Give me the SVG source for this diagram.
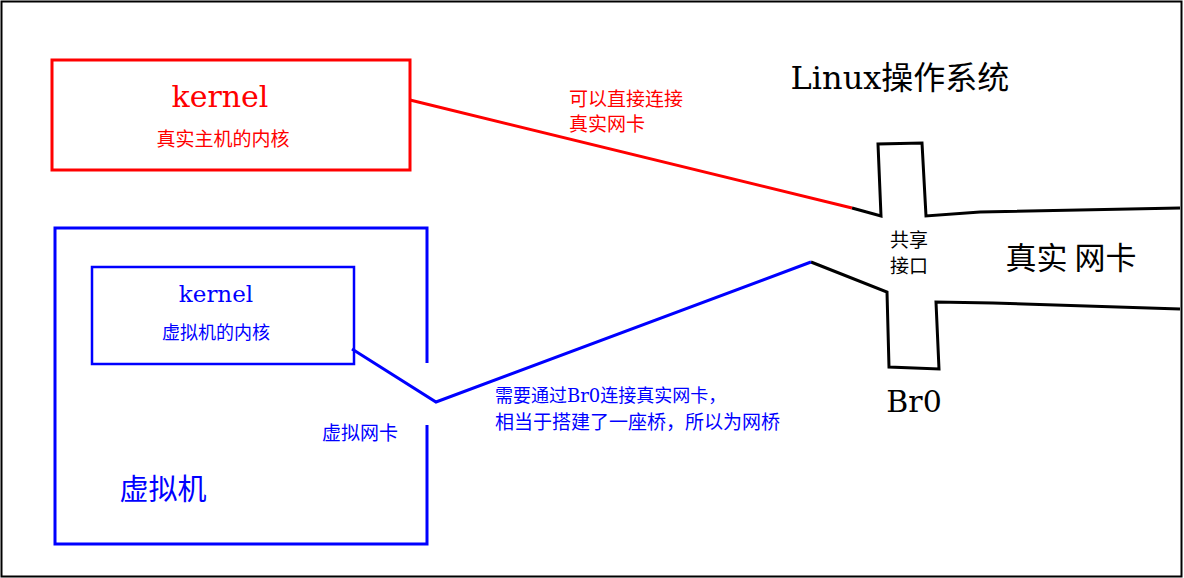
<svg xmlns="http://www.w3.org/2000/svg" width="1184" height="578" viewBox="0 0 1184 578">
<style>
.s{font-family:"DejaVu Serif","Noto Sans CJK SC",serif}
.c{font-family:"Noto Sans CJK SC",sans-serif}
.k{fill:none;stroke:#000;stroke-width:3}
</style>
<rect width="1184" height="578" fill="#fff"/>
<rect x="1.5" y="1.5" width="1180" height="575" fill="none" stroke="#000" stroke-width="2"/>
<g id="host-kernel">
<rect x="52" y="60" width="358" height="110" fill="none" stroke="#f00" stroke-width="3"/>
<text x="220" y="107" class="s" font-size="30" fill="#f00" text-anchor="middle">kernel</text>
<text x="223" y="146" class="c" font-size="19" fill="#f00" text-anchor="middle">真实主机的内核</text>
</g>
<g id="vm">
<path d="M427,363 V228 H55 V544 H427 V425" fill="none" stroke="#00f" stroke-width="3"/>
<text x="163" y="500" class="c" font-size="29" fill="#00f" text-anchor="middle">虚拟机</text>
<text x="360" y="440" class="c" font-size="19" fill="#00f" text-anchor="middle">虚拟网卡</text>
</g>
<g id="vm-kernel">
<rect x="92" y="267" width="262" height="97" fill="none" stroke="#00f" stroke-width="2.5"/>
<text x="216" y="302" class="s" font-size="23" fill="#00f" text-anchor="middle">kernel</text>
<text x="216" y="339" class="c" font-size="18" fill="#00f" text-anchor="middle">虚拟机的内核</text>
</g>
<g id="br0">
<path class="k" d="M852,208 L881,216 L878,144 L922,143 L926,216 L980,212 L1180,208"/>
<path class="k" d="M811,262 L887,292 L889,367 L939,369 L936,302 L993,303 L1180,309"/>
<text x="909" y="247" class="c" font-size="19" text-anchor="middle">共享</text>
<text x="909" y="273" class="c" font-size="19" text-anchor="middle">接口</text>
<text x="1071" y="269" class="c" font-size="31" text-anchor="middle">真实 网卡</text>
<text x="914" y="412" class="s" font-size="30" text-anchor="middle">Br0</text>
</g>
<text x="900" y="89" class="s" font-size="32" text-anchor="middle">Linux操作系统</text>
<g id="connectors">
<path d="M410,100 L852,208" fill="none" stroke="#f00" stroke-width="3"/>
<path d="M352,349 L436,402 L811,262" fill="none" stroke="#00f" stroke-width="3"/>
</g>
<text x="569" y="106" class="c" font-size="19" fill="#f00">可以直接连接</text>
<text x="569" y="131" class="c" font-size="19" fill="#f00">真实网卡</text>
<text x="495" y="402" class="s" font-size="18" fill="#00f">需要通过Br0连接真实网卡，</text>
<text x="495" y="429" class="c" font-size="19" fill="#00f">相当于搭建了一座桥，所以为网桥</text>
</svg>
